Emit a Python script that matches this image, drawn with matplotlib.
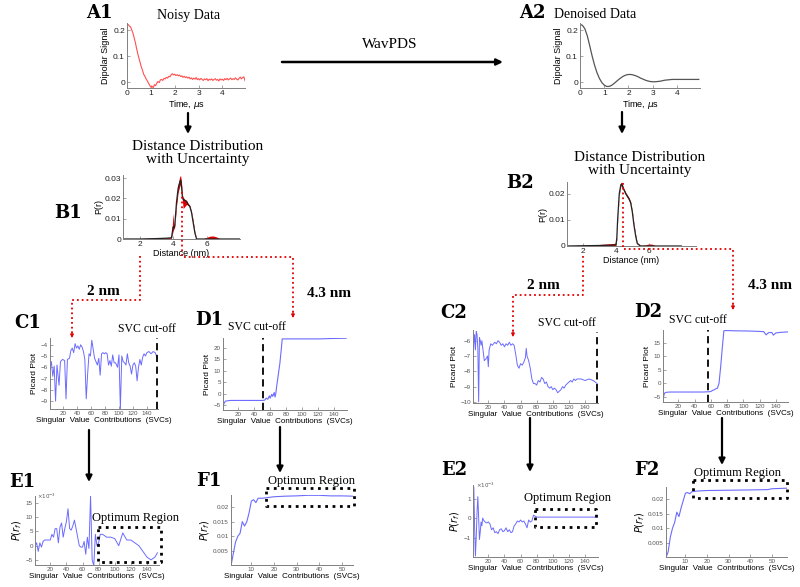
import numpy as np
import matplotlib
matplotlib.use('Agg')
import matplotlib.pyplot as plt

# ---------------- data ----------------
a1_t = np.arange(100) * 0.05
a1_signal = [0.222, 0.221, 0.215, 0.212, 0.200, 0.188, 0.170, 0.152, 0.130, 0.110,
             0.092, 0.075, 0.058, 0.045, 0.030, 0.022, 0.012, 0.005, -0.004, -0.012,
             -0.020, -0.016, -0.022, -0.010, -0.014, -0.004, 0.002, -0.002, 0.008, 0.010,
             0.006, 0.014, 0.012, 0.018, 0.015, 0.022, 0.020, 0.028, 0.032, 0.027,
             0.030, 0.025, 0.028, 0.024, 0.027, 0.021, 0.024, 0.018, 0.022, 0.017,
             0.020, 0.015, 0.019, 0.012, 0.016, 0.010, 0.015, 0.011, 0.017, 0.009,
             0.013, 0.008, 0.014, 0.010, 0.006, 0.012, 0.009, 0.013, 0.005, 0.011,
             0.008, 0.012, 0.006, 0.010, 0.013, 0.007, 0.010, 0.004, 0.012, 0.008,
             0.011, 0.006, 0.013, 0.009, 0.014, 0.008, 0.012, 0.015, 0.009, 0.013,
             0.010, 0.016, 0.011, 0.008, 0.014, 0.019, 0.012, 0.017, 0.020, 0.005]
a2_t = np.arange(50) * 0.1
a2_signal = [0.222, 0.218, 0.205, 0.178, 0.140, 0.100, 0.065, 0.036, 0.014, -0.002,
             -0.012, -0.017, -0.017, -0.013, -0.006, 0.002, 0.010, 0.017, 0.023, 0.027,
             0.029, 0.029, 0.027, 0.024, 0.020, 0.015, 0.011, 0.007, 0.004, 0.002,
             0.001, 0.001, 0.002, 0.003, 0.005, 0.007, 0.008, 0.009, 0.010, 0.010,
             0.010, 0.010, 0.010, 0.010, 0.010, 0.010, 0.010, 0.010, 0.010, 0.010]
time_ticks = [0, 1, 2, 3, 4]
signal_ticks = [0, 0.1, 0.2]
signal_ticklabels = ['0', '0.1', '0.2']

b1_r = [1.0, 2.0, 3.0, 3.6, 3.9, 4.0, 4.05, 4.1, 4.2, 4.3, 4.4, 4.45, 4.5, 4.55, 4.6, 4.7,
        4.8, 4.9, 5.0, 5.1, 5.2, 5.3, 5.4, 5.6, 5.8, 6.0, 6.2, 6.4, 6.6, 6.8, 7.0, 8.0]
b1_p = [0, 0, 0.0002, 0.0004, 0.0006, 0.006, 0.0055, 0.007, 0.018, 0.025, 0.028, 0.029,
        0.026, 0.021, 0.0195, 0.019, 0.0185, 0.017, 0.016, 0.013, 0.008, 0.003, 0, 0, 0,
        0, 0, 0, 0, 0, 0, 0]
b1_hi = [0.0001, 0.0002, 0.0004, 0.0006, 0.0008, 0.0128, 0.006, 0.008, 0.020, 0.027,
         0.031, 0.031, 0.028, 0.022, 0.0205, 0.0195, 0.019, 0.0175, 0.0165, 0.0135, 0.009,
         0.0035, 0.0003, 0.0001, 0.0002, 0.0008, 0.0014, 0.0015, 0.0010, 0.0002, 0.0001, 0]
b1_lo = [0, 0, 0, 0.0002, 0.0004, 0.004, 0.005, 0.006, 0.016, 0.023, 0.026, 0.027, 0.024,
         0.019, 0.015, 0.016, 0.017, 0.0165, 0.0155, 0.0125, 0.007, 0.0025, 0, 0, 0, 0, 0,
         0, 0, 0, 0, 0]
b2_r = [1.0, 2.0, 3.0, 3.5, 3.9, 4.0, 4.05, 4.1, 4.2, 4.3, 4.35, 4.45, 4.6, 4.7, 4.8, 4.9,
        5.0, 5.1, 5.2, 5.3, 5.5, 5.8, 6.0, 6.2, 6.4, 6.8, 8.0]
b2_p = [0, 0.0001, 0.0002, 0.0003, 0.0004, 0.0006, 0.003, 0.010, 0.020, 0.0235, 0.0238,
        0.022, 0.020, 0.019, 0.018, 0.0165, 0.013, 0.008, 0.004, 0.001, 0, 0, 0, 0, 0, 0, 0]
b2_hi = [0.0001, 0.0003, 0.0006, 0.0008, 0.0010, 0.0012, 0.0035, 0.0105, 0.0205, 0.024,
         0.0245, 0.0225, 0.0205, 0.0195, 0.0185, 0.017, 0.0135, 0.0085, 0.0045, 0.0013,
         0.0002, 0.0004, 0.0008, 0.0007, 0.0002, 0, 0]
b2_lo = [0, 0, 0, 0, 0, 0.0002, 0.0025, 0.0095, 0.0195, 0.023, 0.0232, 0.0215, 0.0195,
         0.0185, 0.0175, 0.016, 0.0125, 0.0075, 0.0035, 0.0007, 0, 0, 0, 0, 0, 0, 0]
dist_ticks = [2, 4, 6]
b1_pticks = [0, 0.01, 0.02, 0.03]
b1_pticklabels = ['0', '0.01', '0.02', '0.03']
b2_pticks = [0, 0.01, 0.02]
b2_pticklabels = ['0', '0.01', '0.02']

c1_svc = [1, 3, 5, 7, 9, 11, 14, 16, 19, 22, 24, 26, 29, 31, 33, 35, 37, 39, 41, 43, 45,
          47, 49, 51, 53, 55, 57, 59, 61, 63, 65, 67, 69, 71, 73, 75, 77, 79, 81, 83, 85,
          87, 89, 91, 93, 95, 98, 100, 102, 104, 106, 108, 110, 112, 114, 116, 118, 120,
          122, 124, 126, 128, 130, 132, 134, 136, 138, 140, 143, 146, 149, 152, 155]
c1_val = [-6.1, -5.5, -6.8, -5.9, -9.0, -5.8, -7.6, -5.5, -5.3, -5.4, -8.8, -5.3, -5.2,
          -4.5, -4.3, -4.7, -3.9, -4.3, -4.1, -4.4, -4.0, -4.2, -4.6, -5.3, -8.8, -6.6,
          -4.8, -5.0, -3.6, -4.4, -5.2, -5.5, -5.8, -5.2, -6.7, -4.8, -4.7, -4.8, -4.7,
          -4.8, -5.8, -5.4, -5.9, -4.9, -5.6, -5.6, -6.0, -4.9, -9.7, -5.0, -5.5, -5.6,
          -5.8, -4.8, -5.6, -5.9, -6.6, -5.8, -5.6, -5.9, -7.2, -6.0, -5.3, -5.8, -5.1,
          -4.8, -5.0, -4.7, -4.6, -4.8, -4.6, -4.7, -5.2]
d1_svc = [1, 2, 4, 10, 30, 50, 53, 55, 57, 59, 60, 62, 63, 64, 65, 66, 67, 68, 70, 72, 74,
          75, 80, 100, 120, 140, 155]
d1_val = [-7.0, -4.5, -3.3, -3.0, -3.0, -3.0, -2.9, -2.0, -2.5, -1.0, -2.0, -0.3, -1.2,
          -0.5, 0.5, -1.5, 0.0, 3.0, 8.0, 13.0, 20.0, 24.0, 24.0, 24.0, 24.0, 24.2, 24.3]
c2_svc = [1, 2, 3, 4, 5, 6, 7, 8, 9, 10, 11, 12, 15, 17, 19, 20, 21, 23, 25, 28, 30, 32,
          34, 36, 38, 40, 42, 44, 46, 48, 50, 52, 54, 56, 58, 60, 62, 64, 66, 67, 68, 70,
          72, 74, 76, 78, 80, 82, 84, 86, 88, 90, 92, 94, 96, 98, 100, 102, 104, 106, 108,
          110, 112, 114, 116, 118, 120, 122, 124, 126, 128, 130, 135, 140, 145, 150, 155]
c2_val = [-7.5, -6.2, -5.6, -6.6, -5.4, -5.6, -6.5, -10.0, -5.8, -6.0, -6.3, -6.0, -7.3,
          -7.2, -7.0, -7.7, -6.6, -6.2, -6.3, -6.1, -6.2, -6.0, -6.1, -6.3, -6.2, -6.4,
          -6.2, -6.3, -6.1, -6.3, -6.2, -6.3, -6.9, -7.6, -7.8, -7.5, -7.6, -7.4, -7.1,
          -6.5, -7.0, -7.3, -7.8, -8.5, -8.8, -8.8, -8.9, -8.6, -8.7, -8.4, -8.5, -8.8,
          -8.7, -9.0, -9.1, -9.0, -9.2, -9.1, -9.2, -9.4, -9.3, -9.2, -9.0, -9.1, -8.9,
          -8.8, -8.7, -8.6, -8.7, -8.5, -8.6, -8.5, -8.5, -8.6, -8.5, -8.6, -8.8]
d2_svc = [1, 2, 3, 5, 10, 30, 50, 58, 60, 62, 64, 66, 68, 70, 72, 74, 76, 78, 90, 110,
          125, 128, 131, 135, 137, 140, 145, 155]
d2_val = [-6.0, -4.5, -3.6, -3.3, -3.2, -3.2, -3.2, -3.1, -3.0, -2.6, -2.4, -2.0, -1.8,
          0.0, 6.0, 13.0, 19.5, 19.6, 19.5, 19.4, 19.2, 18.0, 18.8, 18.9, 17.9, 18.7, 18.9, 19.1]
e1_svc = [1, 3, 5, 7, 9, 11, 13, 20, 22, 24, 26, 28, 30, 32, 34, 36, 38, 40, 42, 44, 46,
          48, 50, 52, 54, 56, 58, 60, 62, 64, 66, 68, 70, 72, 74, 76, 78, 80, 82, 85, 90,
          95, 100, 105, 110, 115, 120, 125, 130, 135, 140, 145, 150, 153]
e1_val = [0.0, 1.0, -2.0, 1.0, -0.5, 1.5, 2.0, 2.0, 4.0, 3.0, 6.0, 6.0, 1.0, 6.5, 8.0,
          3.0, 6.0, 8.5, 13.0, 6.0, 5.5, 7.0, 9.0, 6.0, 3.0, 0.0, -0.5, -0.5, 1.5, -3.0,
          3.0, -1.0, 17.5, -5.0, -7.0, 4.0, 0.0, 1.0, 4.0, 4.0, 3.0, 3.0, 2.5, 0.0, 4.5,
          2.0, 2.0, 1.0, 0.0, -2.0, -4.0, -5.0, -4.0, -2.5]
f1_svc = [1, 2, 3, 4, 5, 6, 7, 8, 9, 10, 11, 12, 13, 15, 17, 20, 25, 30, 35, 40, 45, 50, 55]
f1_val = [0.0, 0.004, 0.008, 0.010, 0.011, 0.015, 0.0135, 0.015, 0.018, 0.022, 0.0225,
          0.0215, 0.023, 0.023, 0.0232, 0.0235, 0.0237, 0.0238, 0.0240, 0.0240, 0.0238,
          0.0238, 0.0237]
e2_svc = [1, 2, 3, 4, 5, 6, 7, 8, 9, 10, 11, 12, 13, 14, 16, 18, 20, 22, 24, 26, 28, 30,
          32, 34, 36, 38, 40, 42, 44, 46, 48, 50, 52, 54, 56, 58, 60, 62, 64, 66, 68, 70,
          72, 74, 76, 78, 80, 100, 120, 140, 155]
e2_val = [0.1, 1.6, -0.5, -1.95, -1.0, 0.3, 1.1, 0.0, -1.1, -0.7, -0.2, -0.4, 0.0, -0.1,
          -0.2, -0.25, -0.2, -0.3, -0.6, -0.5, -0.75, -0.7, -0.8, -0.6, -0.55, -0.7, -0.65,
          -0.5, -0.7, -0.6, -0.75, -0.7, -0.4, -0.3, -0.15, -0.2, -0.1, -0.2, -0.15, -0.3,
          -0.5, -0.1, -0.2, -0.15, 0.15, 0.1, 0.05, 0.05, 0.05, 0.05, 0.05]
f2_svc = [1, 2, 3, 4, 5, 6, 7, 8, 9, 10, 11, 12, 13, 15, 20, 30, 40, 48, 50, 57]
f2_val = [0.0, 0.002, 0.007, 0.010, 0.012, 0.0155, 0.014, 0.017, 0.0195, 0.022, 0.0222,
          0.0218, 0.0225, 0.0227, 0.0229, 0.0230, 0.0231, 0.0232, 0.0235, 0.0237]
svc_ticks = [20, 40, 60, 80, 100, 120, 140]
svc_ticks_short = [10, 20, 30, 40, 50]
pr_ticks = [0.005, 0.01, 0.015, 0.02]
pr_ticklabels = ['0.005', '0.01', '0.015', '0.02']

# ---------------- layout helpers ----------------
W, H = 800, 587
fig = plt.figure(figsize=(8, 5.87), dpi=100)
SANS = 'Liberation Sans'
SERIF = 'Liberation Serif'
BLUE = '#6b6bff'


def ax_px(l, t, r, b):
    return fig.add_axes([l / W, 1 - b / H, (r - l) / W, (b - t) / H])


def ftext(x, y, s, **kw):
    kw.setdefault('ha', 'center')
    kw.setdefault('va', 'center')
    fig.text(x / W, 1 - y / H, s, **kw)


def style(ax, fs=4.5, lc='#555555'):
    for s in ['top', 'right']:
        ax.spines[s].set_visible(False)
    for s in ['left', 'bottom']:
        ax.spines[s].set_color('#808080')
        ax.spines[s].set_linewidth(0.7)
    ax.tick_params(direction='in', length=2, width=0.5, labelsize=fs, colors='#808080',
                   labelcolor=lc, pad=1.5)
    for lab in ax.get_xticklabels() + ax.get_yticklabels():
        lab.set_family(SANS)


def panel_label(x, y, s):
    ftext(x, y, s, fontsize=13, fontweight='bold', family='DejaVu Serif')


def svc_xlabel(ax, fs=5.8):
    ax.set_xlabel('Singular  Value  Contributions  (SVCs)', fontsize=fs, family=SANS,
                  labelpad=1)

# ---------------- A1 ----------------
ax = ax_px(127, 23, 245, 88)
ax.plot(a1_t, a1_signal, color='#ff5050', lw=0.8)
ax.set_xlim(0, 4.95)
ax.set_ylim(-0.023, 0.227)
ax.set_xticks(time_ticks)
ax.set_yticks(signal_ticks)
ax.set_yticklabels(signal_ticklabels)
style(ax, fs=6, lc='#222222')
ax.set_xlabel('Time, $\\mu$s', fontsize=6.5, family=SANS, labelpad=1)
ax.set_ylabel('Dipolar Signal', fontsize=6.5, family=SANS, labelpad=2)
panel_label(99, 13, 'A1')
ftext(189, 15, 'Noisy Data', fontsize=10, family=SERIF)

# ---------------- A2 ----------------
ax = ax_px(580, 23, 700, 88)
ax.plot(a2_t, a2_signal, color='#555555', lw=0.9)
ax.set_xlim(0, 4.95)
ax.set_ylim(-0.023, 0.227)
ax.set_xticks(time_ticks)
ax.set_yticks(signal_ticks)
ax.set_yticklabels(signal_ticklabels)
style(ax, fs=6, lc='#222222')
ax.set_xlabel('Time, $\\mu$s', fontsize=6.5, family=SANS, labelpad=1)
ax.set_ylabel('Dipolar Signal', fontsize=6.5, family=SANS, labelpad=2)
panel_label(532, 13, 'A2')
ftext(595, 15, 'Denoised Data', fontsize=10, family=SERIF)
ftext(390, 45, 'WavPDS', fontsize=11, family=SERIF)

# ---------------- B1 ----------------
ax = ax_px(123, 175, 240, 239)
ax.fill_between(b1_r, b1_lo, b1_hi, color='#e00000', lw=0)
ax.plot(b1_r, b1_p, color='#222222', lw=0.9)
ax.set_xlim(1, 8)
ax.set_ylim(0, 0.0315)
ax.set_xticks(dist_ticks)
ax.set_yticks(b1_pticks)
ax.set_yticklabels(b1_pticklabels)
style(ax, fs=6, lc='#222222')
ax.set_xlabel('Distance (nm)', fontsize=6.5, family=SANS, labelpad=1)
ax.set_ylabel('P(r)', fontsize=6.5, family=SANS, labelpad=1)
panel_label(68, 213, 'B1')
ftext(198, 153, 'Distance Distribution\nwith Uncertainty', fontsize=11, family=SERIF,
      linespacing=1.05)

# ---------------- B2 ----------------
ax = ax_px(567, 182, 696, 246)
ax.fill_between(b2_r, b2_lo, b2_hi, color='#e00000', lw=0)
ax.plot(b2_r, b2_p, color='#222222', lw=0.9)
ax.set_xlim(1, 8.9)
ax.set_ylim(0, 0.0245)
ax.set_xticks(dist_ticks)
ax.set_yticks(b2_pticks)
ax.set_yticklabels(b2_pticklabels)
style(ax, fs=6, lc='#222222')
ax.set_xlabel('Distance (nm)', fontsize=6.5, family=SANS, labelpad=1)
ax.set_ylabel('P(r)', fontsize=6.5, family=SANS, labelpad=1)
panel_label(520, 183, 'B2')
ftext(640, 164, 'Distance Distribution\nwith Uncertainty', fontsize=11, family=SERIF,
      linespacing=1.05)

# ---------------- C1 ----------------
ax = ax_px(50, 338, 158, 409)
ax.plot(c1_svc, c1_val, color=BLUE, lw=0.7)
ax.axvline(155, color='k', ls=(0, (4, 2.5)), lw=1.3)
ax.set_xlim(1, 156)
ax.set_ylim(-9.7, -3.4)
ax.set_xticks(svc_ticks)
ax.set_yticks([-9, -8, -7, -6, -5, -4])
style(ax)
svc_xlabel(ax)
ax.set_ylabel('Picard Plot', fontsize=6, family=SANS, labelpad=2)
panel_label(28, 323, 'C1')
ftext(147, 329, 'SVC cut-off', fontsize=8.5, family=SERIF)

# ---------------- D1 ----------------
ax = ax_px(223, 338, 347, 410)
ax.plot(d1_svc, d1_val, color=BLUE, lw=0.8)
ax.axvline(51, color='k', ls=(0, (4, 2.5)), lw=1.3)
ax.set_xlim(1, 156)
ax.set_ylim(-7.2, 24.4)
ax.set_xticks(svc_ticks)
ax.set_yticks([-5, 0, 5, 10, 15, 20])
style(ax)
svc_xlabel(ax)
ax.set_ylabel('Picard Plot', fontsize=6, family=SANS, labelpad=2)
panel_label(209, 320, 'D1')
ftext(257, 327, 'SVC cut-off', fontsize=8.5, family=SERIF)

# ---------------- C2 ----------------
ax = ax_px(473, 330, 598, 403)
ax.plot(c2_svc, c2_val, color=BLUE, lw=0.7)
ax.axvline(155, ymin=0.0, ymax=0.97, color='k', ls=(0, (4, 2.5)), lw=1.3)
ax.set_xlim(1, 156)
ax.set_ylim(-10.07, -5.3)
ax.set_xticks(svc_ticks)
ax.set_yticks([-10, -9, -8, -7, -6])
style(ax)
svc_xlabel(ax)
ax.set_ylabel('Picard Plot', fontsize=6, family=SANS, labelpad=2)
panel_label(454, 313, 'C2')
ftext(567, 323, 'SVC cut-off', fontsize=8.5, family=SERIF)

# ---------------- D2 ----------------
ax = ax_px(663, 330, 788, 402)
ax.plot(d2_svc, d2_val, color=BLUE, lw=0.8)
ax.axvline(57, color='k', ls=(0, (4, 2.5)), lw=1.3)
ax.set_xlim(1, 155)
ax.set_ylim(-6.9, 19.8)
ax.set_xticks(svc_ticks)
ax.set_yticks([-5, 0, 5, 10, 15])
style(ax)
svc_xlabel(ax)
ax.set_ylabel('Picard Plot', fontsize=6, family=SANS, labelpad=2)
panel_label(648, 312, 'D2')
ftext(698, 320, 'SVC cut-off', fontsize=8.5, family=SERIF)

# ---------------- E1 ----------------
ax = ax_px(35, 496, 159, 565)
ax.plot(e1_svc, e1_val, color=BLUE, lw=0.7)
ax.set_xlim(1, 155)
ax.set_ylim(-6.8, 17.5)
ax.set_xticks(svc_ticks)
ax.set_yticks([-5, 0, 5, 10, 15])
style(ax)
svc_xlabel(ax)
ax.set_ylabel('$P(r_f)$', fontsize=7, labelpad=1)
ax.text(0.02, 1.0, '$\\times10^{-3}$', transform=ax.transAxes, fontsize=4, color='#555555',
        ha='left', va='center')
panel_label(22, 482, 'E1')
ftext(136, 518, 'Optimum Region', fontsize=9, family=SERIF)

# ---------------- F1 ----------------
ax = ax_px(231, 495, 353, 565)
ax.plot(f1_svc, f1_val, color=BLUE, lw=0.8)
ax.set_xlim(1, 55)
ax.set_ylim(0.0002, 0.0241)
ax.set_xticks(svc_ticks_short)
ax.set_yticks(pr_ticks)
ax.set_yticklabels(pr_ticklabels)
style(ax)
svc_xlabel(ax)
ax.set_ylabel('$P(r_f)$', fontsize=7, labelpad=1)
panel_label(209, 481, 'F1')
ftext(311, 481, 'Optimum Region', fontsize=9, family=SERIF)

# ---------------- E2 ----------------
ax = ax_px(473, 485, 598, 557)
ax.plot(e2_svc, e2_val, color=BLUE, lw=0.7)
ax.set_xlim(1, 156)
ax.set_ylim(-2.0, 1.7)
ax.set_xticks(svc_ticks)
ax.set_yticks([-1, 0, 1])
style(ax)
svc_xlabel(ax)
ax.set_ylabel('$P(r_f)$', fontsize=7, labelpad=1)
ax.text(0.02, 1.0, '$\\times10^{-3}$', transform=ax.transAxes, fontsize=4, color='#555555',
        ha='left', va='center')
panel_label(454, 470, 'E2')
ftext(568, 498, 'Optimum Region', fontsize=9, family=SERIF)

# ---------------- F2 ----------------
ax = ax_px(666, 487, 787, 557)
ax.plot(f2_svc, f2_val, color=BLUE, lw=0.8)
ax.set_xlim(1, 57)
ax.set_ylim(0.0002, 0.0241)
ax.set_xticks(svc_ticks_short)
ax.set_yticks(pr_ticks)
ax.set_yticklabels(pr_ticklabels)
style(ax)
svc_xlabel(ax)
ax.set_ylabel('$P(r_f)$', fontsize=7, labelpad=1)
panel_label(647, 470, 'F2')
ftext(738, 473, 'Optimum Region', fontsize=9, family=SERIF)

# ---------------- overlay: arrows, boxes, dotted paths ----------------
ov = fig.add_axes([0, 0, 1, 1], zorder=10)
ov.set_xlim(0, W)
ov.set_ylim(H, 0)
ov.axis('off')
ov.patch.set_alpha(0)


def arrow(x1, y1, x2, y2, color='k', lw=1.6, ms=9):
    ov.annotate('', xy=(x2, y2), xytext=(x1, y1),
                arrowprops=dict(arrowstyle='-|>', color=color, lw=lw, mutation_scale=ms,
                                shrinkA=0, shrinkB=0))


arrow(282, 62, 503, 62, lw=1.8)
arrow(188, 113, 188, 134)
arrow(622, 112, 622, 134)
arrow(89, 430, 89, 482)
arrow(280, 427, 280, 473)
arrow(530, 418, 530, 472)
arrow(722, 418, 722, 465)


def red_path(xs, ys):
    ov.plot(xs[:-1] + [xs[-1]], ys[:-1] + [ys[-1] - 5], color='#e00000', ls=':', lw=1.3)
    arrow(xs[-1], ys[-1] - 6, xs[-1], ys[-1], color='#e00000', lw=0.8, ms=5)


red_path([140, 140, 72, 72], [256, 300, 300, 338])
red_path([182, 182, 293, 293], [192, 257, 257, 318])
red_path([583, 583, 513, 513], [256, 295, 295, 337])
red_path([623, 623, 733, 733], [183, 249, 249, 310])
ftext(103, 292, '2 nm', fontsize=11, fontweight='bold', family=SERIF)
ftext(329, 294, '4.3 nm', fontsize=11, fontweight='bold', family=SERIF)
ftext(543, 286, '2 nm', fontsize=11, fontweight='bold', family=SERIF)
ftext(770, 286, '4.3 nm', fontsize=11, fontweight='bold', family=SERIF)

# dotted "optimum region" boxes
for (l, t, r, b) in [(98, 527, 161, 562), (266, 488, 354, 506), (535, 509, 596, 527),
                     (693, 480, 787, 498)]:
    ov.plot([l, r, r, l, l], [t, t, b, b, t], color='k', ls=':', lw=2.0)

fig.savefig('out.png', dpi=100)
